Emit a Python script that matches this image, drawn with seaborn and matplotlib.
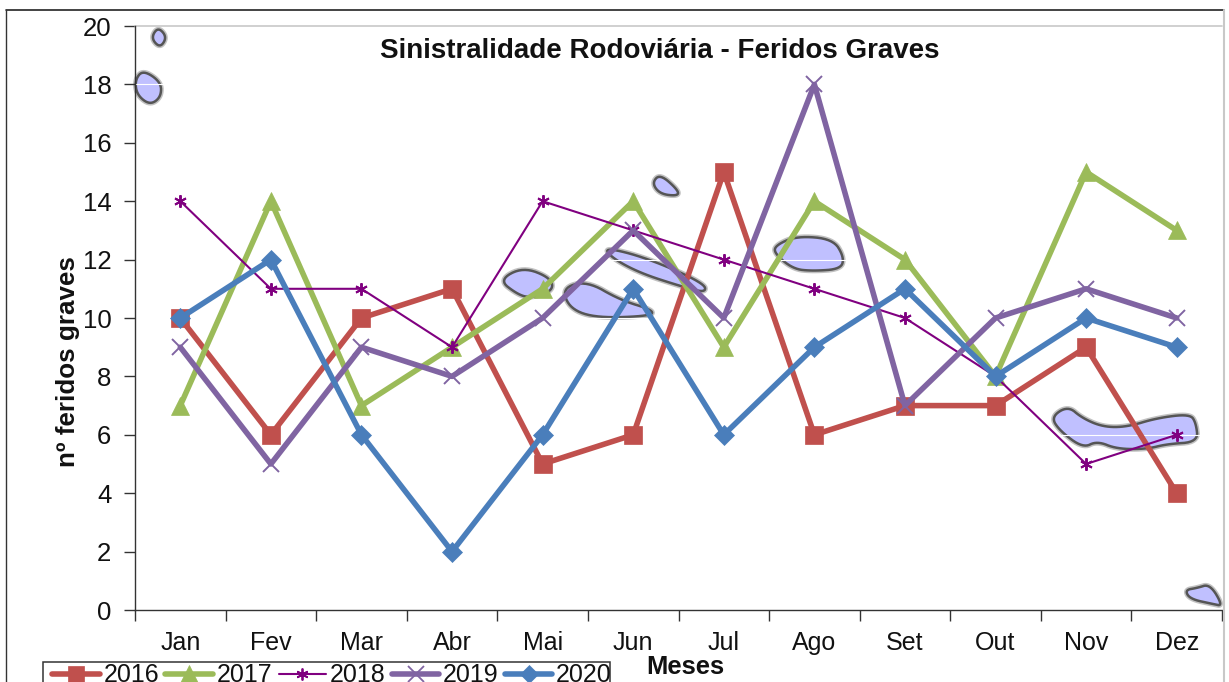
import numpy as np
import pandas as pd
import matplotlib
matplotlib.use("Agg")
import matplotlib.pyplot as plt
from matplotlib.lines import Line2D
from matplotlib.patches import Polygon, Rectangle
import seaborn as sns

meses = ['Jan', 'Fev', 'Mar', 'Abr', 'Mai', 'Jun', 'Jul', 'Ago', 'Set', 'Out', 'Nov', 'Dez']
v2016 = [10, 6, 10, 11, 5, 6, 15, 6, 7, 7, 9, 4]
v2017 = [7, 14, 7, 9, 11, 14, 9, 14, 12, 8, 15, 13]
v2018 = [14, 11, 11, 9, 14, 13, 12, 11, 10, 8, 5, 6]
v2019 = [9, 5, 9, 8, 10, 13, 10, 18, 7, 10, 11, 10]
v2020 = [10, 12, 6, 2, 6, 11, 6, 9, 11, 8, 10, 9]
anos = ['2016', '2017', '2018', '2019', '2020']
series = [v2016, v2017, v2018, v2019, v2020]

cores = ['#C0504D', '#9BBB59', '#800080', '#8064A2', '#4A7EBB']
marcas = ['s', '^', (6, 2, 0), 'x', 'D']
larguras = [4, 4, 1.5, 4, 4]
tamanhos = [12.5, 13, 9, 12, 10]

# ilhas do fundo (mapa decorativo), em pixeis da imagem
ilhas = [
    [(158, 27), (167, 37), (160, 48), (151, 38)],
    [(143, 70), (161, 82), (161, 97), (150, 105), (137, 95), (135, 80)],
    [(660, 174), (678, 190), (678, 196), (660, 194), (652, 183)],
    [(499, 280), (523, 267), (551, 278), (553, 291), (530, 298), (517, 294)],
    [(562, 288), (587, 281), (620, 300), (653, 310), (651, 316), (597, 318), (570, 309)],
    [(604, 247), (647, 258), (704, 283), (706, 293), (680, 286), (640, 273), (612, 258)],
    [(776, 245), (797, 236), (833, 239), (844, 257), (841, 269), (813, 271), (793, 269), (774, 253)],
    [(1051, 417), (1068, 406), (1082, 418), (1103, 427), (1127, 427), (1157, 418), (1190, 414),
     (1196, 423), (1198, 442), (1167, 444), (1147, 449), (1117, 449), (1097, 441), (1083, 448), (1060, 431)],
    [(1185, 590), (1197, 588), (1210, 584), (1223, 606), (1213, 604), (1190, 599)],
]

W, H = 1229, 682


def fx(px):
    return px / W


def fy(py):
    return 1 - py / H


def arredondar(pts, passos=3):
    # cantos arredondados (Chaikin), so para o contorno das ilhas
    p = np.array(pts, dtype=float)
    for _ in range(passos):
        q = np.roll(p, -1, axis=0)
        p = np.column_stack([0.75 * p + 0.25 * q, 0.25 * p + 0.75 * q]).reshape(-1, 2)
    return p


sns.set_style("white")
plt.rcParams['font.family'] = ['Liberation Sans', 'DejaVu Sans']

fig = plt.figure(figsize=(W / 100, H / 100), dpi=100)
ax = fig.add_axes([fx(135), fy(610), fx(1222 - 135), (610 - 26) / H])
ax.patch.set_alpha(0)

# moldura da figura
fig.add_artist(Line2D([fx(6), fx(1224)], [fy(9.5), fy(9.5)], color='#222222', lw=1.2))
fig.add_artist(Line2D([fx(6), fx(6)], [fy(9.5), 0], color='#333333', lw=1.0))
fig.add_artist(Line2D([fx(1223.5), fx(1223.5)], [fy(9.5), 0], color='#C8C8C8', lw=1.5))

for ilha in ilhas:
    pts = [(fx(x), fy(y)) for x, y in arredondar(ilha)]
    fig.add_artist(Polygon(pts, closed=True, transform=fig.transFigure, facecolor='none',
                           edgecolor='#999999', lw=4, joinstyle='round', alpha=0.6, zorder=-2))
    fig.add_artist(Polygon(pts, closed=True, transform=fig.transFigure, facecolor='#C0C0FF',
                           edgecolor='#555555', lw=1.8, joinstyle='round', zorder=-1))

# a linha de 2018 usa um marcador de traços, por isso cada série é desenhada à parte
for ano, vals, cor, m, lw, ms in zip(anos, series, cores, marcas, larguras, tamanhos):
    df = pd.DataFrame({'Mes': meses, 'Valor': vals})
    arte = m in ('x', (6, 2, 0))
    sns.lineplot(data=df, x='Mes', y='Valor', color=cor, marker=m, linewidth=lw, markersize=ms,
                 markerfacecolor=cor, markeredgecolor=cor, markeredgewidth=1.4 if arte else 0.5,
                 sort=False, errorbar=None, ax=ax, label=ano, legend=False)

ax.set_xlim(-0.5, 11.5)
ax.set_ylim(0, 20)
ax.set_yticks(range(0, 21, 2))
ax.set_xticks(np.arange(-0.5, 12, 1), minor=False)
ax.set_xticklabels([])
ax.set_xticks(np.arange(12), minor=True)
ax.set_xticklabels(meses, minor=True, fontsize=18, color='#111111')
ax.tick_params(axis='x', which='major', length=8, width=1, color='#333333', bottom=True)
ax.tick_params(axis='x', which='minor', length=0, pad=15, bottom=False)
ax.tick_params(axis='y', length=8, width=1, color='#333333', left=True, labelsize=18.5,
               labelcolor='#111111', pad=9)
ax.set_xlabel('')
ax.set_ylabel('')

# linhas de grelha brancas sobre as ilhas, topo cinzento
for v in range(2, 20, 2):
    ax.axhline(v, color='white', lw=0.8, zorder=0.5)
ax.axhline(20, color='#C8C8C8', lw=1.2, clip_on=False)

for lado in ['top', 'right']:
    ax.spines[lado].set_visible(False)
for lado in ['left', 'bottom']:
    ax.spines[lado].set_color('#333333')
    ax.spines[lado].set_linewidth(1)

fig.text(fx(660), fy(51), 'Sinistralidade Rodoviária - Feridos Graves', ha='center', va='center',
         fontsize=20, fontweight='bold', color='#111111')
fig.text(fx(68), fy(362), 'nº feridos graves', rotation=90, ha='center', va='center',
         fontsize=18.7, fontweight='bold', color='#111111')
fig.text(fx(685), fy(667), 'Meses', ha='center', va='center',
         fontsize=18.4, fontweight='bold', color='#111111')

# caixa da legenda à parte, cortada pelo fundo da figura
fig.add_artist(Rectangle((fx(43), fy(690)), fx(610 - 43), (690 - 662) / H, transform=fig.transFigure,
                         facecolor='white', edgecolor='#333333', lw=1.1, zorder=2))
handles = [Line2D([], [], color=c, marker=m, lw=lw, ms=ms * 0.95, mfc=c, mec=c,
                  mew=1.3 if m in ('x', (6, 2, 0)) else 0.5)
           for c, m, lw, ms in zip(cores, marcas, larguras, tamanhos)]
leg = fig.legend(handles, anos, loc='upper left', bbox_to_anchor=(fx(51), fy(662)), ncol=5, fontsize=18,
                 frameon=False, borderpad=0.05, handlelength=1.9, handletextpad=0.15,
                 columnspacing=0.25, borderaxespad=0, labelcolor='#111111')
leg.set_zorder(3)

fig.savefig('out.png', dpi=100)
